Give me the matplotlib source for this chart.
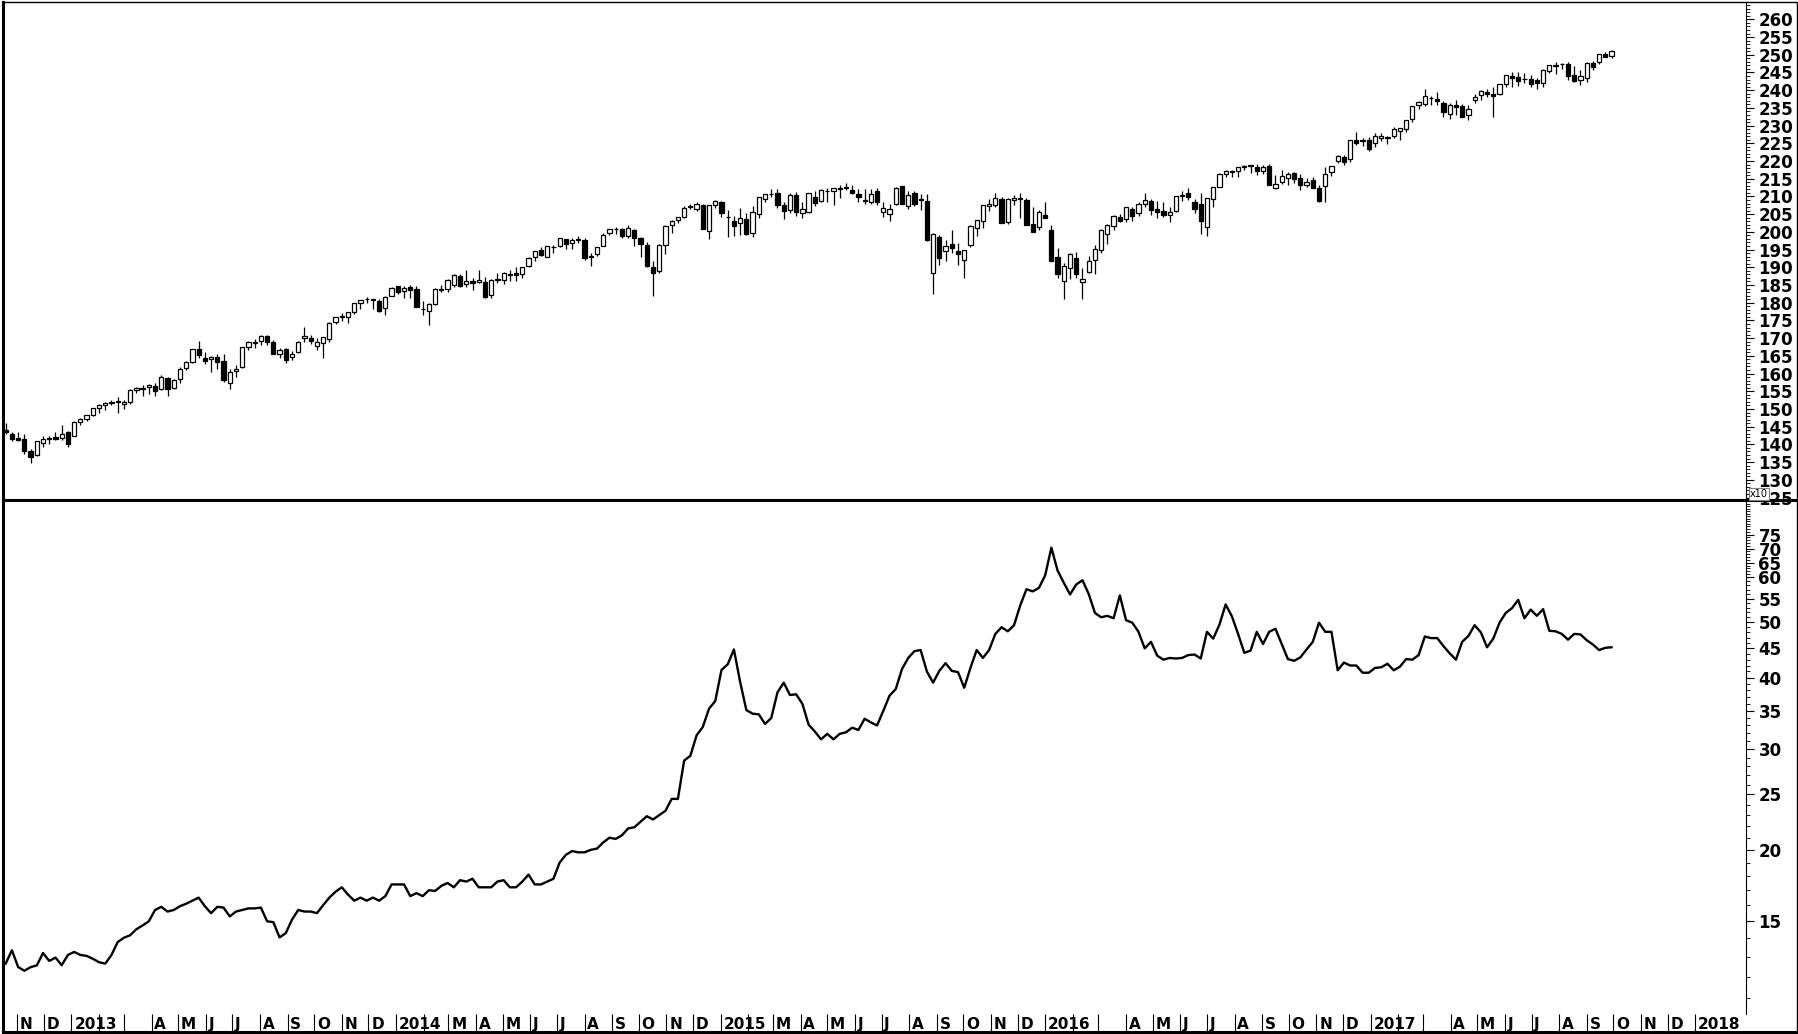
import numpy as np
import pandas as pd
import matplotlib
matplotlib.use("Agg")
import matplotlib.pyplot as plt
from matplotlib.lines import Line2D
from matplotlib.patches import Rectangle
from matplotlib.ticker import MultipleLocator, FixedLocator, NullFormatter

# weekly bars, first bar is the week ending 2012-10-19
first_week = "2012-10-19"

opens = [
    # 2012
    144.2, 142.8, 141.9, 141.5, 138.2, 137.0, 140.5, 141.6, 142.1, 141.7, 143.5,
    # 2013
    142.5, 146.4, 147.1, 148.4, 150.2, 151.0, 151.8, 152.2, 151.5, 151.9,
    155.4, 156.0, 156.1, 156.4, 155.6, 158.7, 156.0, 158.6, 161.6, 163.4,
    166.9, 164.4, 164.1, 164.6, 163.6, 157.4, 160.6, 161.8, 167.5, 168.6,
    169.2, 170.5, 168.8, 165.5, 166.9, 164.8, 166.0, 170.0, 170.0, 167.9,
    168.5, 169.7, 174.6, 176.0, 176.0, 177.3, 180.0, 181.0, 181.0, 180.6,
    178.4, 182.0,
    # 2014
    184.6, 183.3, 184.4, 184.0, 178.2, 177.7, 179.7, 183.7, 184.0, 185.0,
    187.5, 185.2, 186.0, 185.9, 185.9, 182.3, 186.6, 186.3, 188.0, 188.4,
    188.0, 190.4, 192.9, 194.8, 193.0, 195.7, 196.0, 198.0, 196.8, 197.8,
    197.8, 192.9, 193.8, 196.0, 199.6, 200.9, 200.7, 198.9, 200.4, 198.3,
    196.4, 190.2, 189.0, 196.2, 201.9, 203.3, 204.2, 207.0, 206.4, 207.5,
    200.3, 207.6,
    # 2015
    208.5, 204.2, 203.0, 202.4, 203.5, 199.6, 205.0, 209.4, 210.7, 210.9,
    207.7, 206.3, 210.3, 205.3, 205.6, 209.9, 208.6, 211.6, 211.5, 212.2,
    212.4, 211.9, 210.8, 208.6, 208.4, 211.6, 205.5, 205.1, 207.8, 212.9,
    207.2, 211.0, 208.9, 208.7, 188.3, 198.5, 194.6, 196.6, 194.7, 192.1,
    196.4, 201.1, 203.0, 207.3, 207.6, 209.3, 202.9, 208.9, 209.2, 208.9,
    202.1, 201.4, 204.7,
    # 2016
    200.5, 192.9, 186.2, 189.9, 192.5, 185.8, 188.8, 192.1, 195.0, 199.4,
    201.7, 204.1, 203.6, 206.5, 205.3, 207.8, 208.8, 206.5, 205.9, 204.9,
    205.9, 210.0, 211.0, 208.3, 207.8, 201.4, 209.2, 212.8, 216.2, 216.9,
    217.2, 218.3, 218.8, 218.3, 217.1, 218.5, 212.4, 214.0, 215.1, 216.5,
    215.2, 213.3, 214.6, 212.4, 212.9, 216.9, 219.9, 221.2, 220.6, 226.0,
    226.0, 226.0,
    # 2017
    225.0, 226.5, 226.5, 227.0, 228.5, 229.0, 231.9, 235.8, 236.0, 237.9,
    237.6, 236.4, 233.2, 235.8, 235.4, 233.1, 237.2, 238.7, 239.6, 239.0,
    239.0, 241.7, 244.0, 243.8, 243.3, 243.1, 242.9, 242.1, 245.5, 247.0,
    247.5, 247.5, 244.2, 243.0, 243.4, 247.6, 248.0, 250.1, 249.7,
]

highs = [
    146.1, 143.5, 143.4, 143.0, 138.7, 141.0, 142.5, 142.4, 143.6, 145.6, 143.8,
    146.6, 147.4, 148.4, 150.3, 151.3, 152.0, 152.6, 153.3, 152.5, 155.5,
    156.2, 156.9, 157.0, 157.4, 159.7, 159.0, 158.6, 161.9, 163.6, 166.9,
    169.1, 166.1, 165.0, 165.5, 165.4, 161.4, 162.5, 167.5, 169.3, 169.8,
    171.0, 170.9, 169.5, 167.3, 167.3, 166.4, 169.2, 173.1, 170.8, 170.1,
    170.4, 174.5, 176.0, 177.0, 177.3, 180.0, 180.9, 181.7, 181.1, 181.1,
    182.0, 184.3,
    184.7, 184.6, 185.0, 184.8, 180.5, 180.0, 184.1, 184.9, 186.6, 188.0,
    188.1, 189.2, 187.1, 189.2, 187.3, 186.6, 188.5, 188.8, 189.2, 190.2,
    190.0, 192.8, 194.6, 195.6, 195.9, 196.4, 198.3, 198.1, 198.3, 198.7,
    198.3, 194.1, 195.8, 199.8, 200.8, 201.4, 201.0, 201.9, 200.7, 198.5,
    197.0, 191.9, 196.7, 201.8, 203.3, 204.3, 207.3, 207.8, 208.5, 208.0,
    207.6, 209.0,
    208.7, 206.2, 204.5, 206.6, 205.4, 207.3, 209.8, 210.7, 212.0, 212.2,
    208.4, 211.0, 211.2, 208.3, 210.9, 211.4, 212.0, 212.3, 212.3, 213.2,
    213.8, 213.3, 212.2, 212.2, 212.1, 212.5, 208.3, 208.0, 212.6, 213.0,
    211.4, 211.5, 210.7, 210.6, 199.8, 199.1, 197.8, 200.6, 196.9, 195.0,
    201.9, 203.3, 207.6, 209.4, 211.1, 209.8, 209.7, 210.3, 211.0, 209.6,
    207.0, 206.3, 208.4,
    201.9, 195.4, 191.3, 194.0, 194.2, 189.8, 193.3, 196.2, 200.7, 202.2,
    204.9, 205.1, 207.0, 207.0, 208.5, 210.9, 209.4, 208.7, 208.5, 207.1,
    210.2, 211.6, 212.5, 209.2, 211.0, 209.6, 212.6, 216.6, 217.4, 217.6,
    218.2, 219.0, 219.0, 219.2, 218.9, 219.2, 216.1, 217.6, 217.0, 216.9,
    216.2, 215.1, 215.6, 213.1, 218.3, 218.6, 221.6, 221.8, 226.0, 228.3,
    226.6, 226.7,
    227.8, 228.0, 227.0, 229.7, 229.3, 231.5, 235.4, 236.9, 240.3, 238.5,
    239.4, 237.0, 236.5, 237.3, 236.0, 235.9, 239.0, 240.0, 240.2, 240.9,
    241.7, 244.4, 245.0, 245.0, 244.9, 244.4, 243.4, 245.9, 247.2, 247.9,
    247.6, 248.0, 246.7, 245.6, 247.9, 248.3, 250.2, 250.9, 251.3,
]

lows = [
    143.0, 140.9, 140.9, 137.4, 134.7, 136.7, 139.2, 140.2, 141.3, 141.1, 139.4,
    142.4, 145.6, 146.5, 148.1, 148.8, 149.8, 151.1, 148.9, 149.9, 151.4,
    154.6, 153.8, 154.2, 153.6, 155.3, 153.6, 155.6, 157.3, 160.9, 162.9,
    164.5, 162.6, 160.5, 161.3, 157.5, 155.7, 159.1, 161.7, 166.6, 167.2,
    168.1, 168.2, 165.4, 164.5, 163.1, 163.7, 165.9, 169.0, 168.4, 166.6,
    164.5, 169.0, 174.0, 174.9, 174.3, 176.9, 178.3, 180.0, 178.3, 177.3,
    176.5, 181.8,
    182.4, 181.3, 181.3, 178.8, 176.5, 173.7, 179.4, 182.9, 182.9, 184.4,
    184.4, 184.5, 183.7, 185.5, 181.3, 181.3, 185.6, 185.3, 186.2, 186.2,
    186.9, 190.2, 191.9, 193.2, 192.9, 194.0, 195.6, 195.2, 195.3, 196.9,
    192.1, 190.5, 193.3, 196.0, 199.1, 199.4, 198.4, 198.2, 195.9, 193.0,
    190.1, 181.9, 188.4, 193.7, 199.8, 202.6, 203.8, 206.5, 205.9, 200.8,
    197.9, 206.8,
    204.3, 198.6, 198.9, 199.2, 199.1, 198.6, 203.9, 208.5, 209.9, 206.8,
    203.5, 205.2, 204.6, 204.0, 205.2, 207.3, 208.3, 208.5, 207.7, 209.7,
    211.7, 210.6, 208.4, 207.9, 208.0, 207.6, 204.1, 203.2, 207.5, 207.9,
    206.5, 207.3, 206.3, 197.5, 182.4, 190.6, 191.9, 194.0, 190.7, 186.9,
    195.7, 198.9, 201.0, 206.0, 207.0, 202.4, 202.2, 207.6, 203.9, 201.9,
    199.9, 200.4, 203.9,
    191.9, 186.9, 181.0, 186.6, 187.1, 181.0, 188.4, 188.2, 193.9, 196.7,
    200.6, 202.7, 202.7, 203.1, 204.4, 207.0, 204.8, 203.9, 204.2, 202.8,
    205.5, 208.6, 209.1, 205.2, 199.4, 198.7, 207.0, 212.7, 215.5, 215.4,
    215.5, 217.5, 216.7, 216.0, 216.4, 213.3, 212.0, 213.4, 213.1, 213.9,
    211.8, 212.6, 212.4, 208.4, 208.4, 215.8, 219.5, 219.0, 219.7, 224.5,
    224.3, 222.7,
    223.9, 225.7, 224.9, 226.4, 226.0, 228.3, 231.1, 234.6, 235.4, 235.7,
    235.8, 232.5, 232.0, 233.1, 232.5, 231.6, 236.5, 237.2, 238.0, 232.5,
    238.6, 240.9, 241.0, 241.1, 242.0, 240.8, 240.2, 240.9, 244.9, 244.5,
    246.0, 243.0, 242.3, 241.5, 242.4, 245.6, 247.5, 249.4, 249.0,
]

closes = [
    143.4, 141.6, 141.3, 138.0, 136.4, 140.9, 141.5, 141.9, 141.6, 143.0, 140.0,
    146.4, 147.1, 148.3, 150.3, 151.2, 151.8, 152.1, 151.9, 152.1, 155.4,
    156.0, 155.6, 156.7, 155.2, 159.0, 155.5, 158.2, 161.4, 163.4, 166.9,
    165.3, 163.5, 164.8, 163.2, 158.2, 160.4, 161.2, 167.4, 168.8, 168.9,
    170.7, 168.8, 165.5, 166.6, 163.7, 165.5, 168.9, 170.7, 169.1, 168.9,
    170.3, 174.4, 175.9, 176.2, 177.3, 180.0, 180.8, 181.0, 180.9, 177.7,
    181.6, 184.2,
    183.0, 184.1, 183.6, 178.9, 178.2, 179.7, 184.0, 183.9, 186.3, 187.7,
    184.7, 186.2, 185.7, 186.4, 181.5, 186.4, 186.3, 188.3, 187.9, 187.8,
    190.0, 192.7, 194.5, 193.5, 195.9, 195.8, 198.2, 196.6, 197.7, 197.9,
    192.5, 193.2, 195.7, 199.2, 200.7, 200.9, 198.9, 201.0, 198.4, 196.5,
    190.5, 188.5, 196.4, 201.7, 203.2, 204.2, 206.7, 207.2, 208.0, 200.9,
    207.5, 208.7,
    205.4, 204.3, 201.6, 203.9, 199.5, 205.6, 209.8, 210.7, 210.7, 207.5,
    205.8, 210.4, 205.7, 206.4, 210.9, 208.2, 211.9, 211.6, 212.3, 212.4,
    212.6, 211.1, 209.8, 209.1, 210.8, 208.3, 206.7, 206.4, 212.5, 208.0,
    210.5, 207.9, 209.4, 197.6, 199.3, 192.6, 196.0, 195.5, 193.7, 195.0,
    201.7, 203.3, 207.5, 207.9, 209.6, 202.5, 209.3, 209.6, 209.6, 201.9,
    200.0, 205.7, 203.9,
    191.9, 188.1, 190.5, 193.7, 188.1, 186.6, 191.9, 195.1, 200.4, 202.0,
    204.4, 203.1, 206.9, 204.5, 207.8, 209.0, 206.3, 205.7, 204.8, 205.5,
    210.2, 210.3, 209.9, 206.5, 203.2, 209.5, 212.6, 216.4, 217.2, 217.1,
    218.2, 218.5, 218.5, 217.3, 218.4, 213.3, 213.4, 215.8, 216.3, 215.0,
    213.1, 214.0, 212.5, 208.6, 216.4, 218.5, 221.5, 219.7, 225.9, 225.0,
    225.7, 223.5,
    227.2, 227.0, 226.7, 229.0, 229.3, 231.5, 235.4, 236.7, 238.4, 237.7,
    237.0, 233.9, 235.7, 235.2, 232.5, 234.6, 238.1, 239.7, 239.0, 238.3,
    241.7, 244.2, 243.4, 242.6, 243.1, 241.8, 242.1, 245.6, 247.1, 246.9,
    247.4, 244.1, 242.7, 244.0, 247.8, 246.6, 250.1, 249.4, 251.2,
]

# lower panel series (same weekly dates)
lower = [
    12.65, 13.35, 12.48, 12.29, 12.47, 12.56, 13.2, 12.79, 12.96, 12.57,
    13.1, 13.26, 13.1, 13.05, 12.9, 12.72, 12.65, 13.1, 13.8, 14.04,
    14.18, 14.53, 14.75, 15.0, 15.7, 15.9, 15.6, 15.7, 15.94, 16.1,
    16.3, 16.5, 15.94, 15.5, 15.9, 15.85, 15.3, 15.6, 15.7, 15.8,
    15.8, 15.85, 15.0, 14.95, 14.06, 14.3, 15.1, 15.7, 15.6, 15.6,
    15.5, 16.0, 16.5, 16.9, 17.2, 16.7, 16.3, 16.5, 16.3, 16.5,
    16.3, 16.6, 17.4, 17.4, 17.4, 16.6, 16.8, 16.6, 17.0, 16.95,
    17.3, 17.5, 17.2, 17.7, 17.6, 17.8, 17.2, 17.2, 17.2, 17.6,
    17.7, 17.2, 17.2, 17.6, 18.1, 17.4, 17.4, 17.6, 17.8, 19.0,
    19.6, 19.9, 19.8, 19.8, 20.0, 20.1, 20.6, 21.0, 20.9, 21.2,
    21.8, 21.9, 22.4, 22.9, 22.6, 23.0,
    23.4, 24.55, 24.55, 28.65, 29.2, 31.7, 32.8, 35.3, 36.4, 41.25,
    42.2, 44.8, 39.3, 35.1, 34.6, 34.5, 33.2, 34.0, 37.7, 39.2,
    37.3, 37.4, 36.0, 33.1, 32.2, 31.2, 31.9, 31.2, 31.9, 32.1,
    32.7, 32.4, 33.9, 33.4, 33.0, 35.0, 37.2, 38.2, 41.4, 43.3,
    44.5, 44.7, 41.0, 39.2, 41.1, 42.4, 41.1, 40.9, 38.4, 41.6,
    44.7, 43.3, 44.7, 47.7, 49.0, 48.2, 49.4, 53.5, 57.1, 56.6,
    57.4, 60.5, 70.3, 62.2, 58.6, 55.9, 58.2, 59.2, 56.0, 51.9, 51.0,
    51.3, 50.8, 55.7, 50.4, 49.9, 48.1, 45.0, 46.2, 43.7, 43.0,
    43.3, 43.2, 43.3, 43.8, 43.9, 43.2, 48.1, 46.8, 49.5, 53.7,
    51.2, 47.7, 44.2, 44.6, 48.1, 45.8, 48.1, 48.7, 45.8, 43.1,
    42.8, 43.4, 44.8, 46.2, 49.9, 48.1, 48.1, 41.2, 42.5, 42.0,
    42.0, 40.8, 40.8, 41.6, 41.7, 42.3, 41.2, 41.8, 43.1, 43.0,
    43.8, 47.2, 46.9, 46.9, 45.4, 44.1, 43.0, 46.2, 47.3, 49.4,
    48.0, 45.2, 46.8, 49.9, 51.9, 52.9, 54.7, 50.8, 52.6, 51.3,
    52.7, 48.3, 48.2, 47.7, 46.6, 47.7, 47.6, 46.5, 45.7, 44.7, 45.1, 45.2,
]

month_labels = [
    "N", "D",
    "2013", "", "", "A", "M", "J", "J", "A", "S", "O", "N", "D",
    "2014", "", "M", "A", "M", "J", "J", "A", "S", "O", "N", "D",
    "2015", "", "M", "A", "M", "J", "J", "A", "S", "O", "N", "D",
    "2016", "", "", "A", "M", "J", "J", "A", "S", "O", "N", "D",
    "2017", "", "", "A", "M", "J", "J", "A", "S", "O", "N", "D",
    "2018",
]
price_ticks = list(range(125, 261, 5))
lower_ticks = [15, 20, 25, 30, 35, 40, 45, 50, 55, 60, 65, 70, 75]

W, H = 1799, 1034

# lower axis: log spacing up to 60, tighter spacing above (as on the original axis)
knot_v = np.log([8, 15, 60, 65, 70, 75, 100])
knot_h = -np.array([1077.4, 921.3, 576.9, 562.8, 548.5, 534.6, 474.9])


def fwd(v):
    v = np.asarray(v, dtype=float)
    return np.interp(np.log(np.clip(v, 1e-6, None)), knot_v, knot_h)


def inv(h):
    return np.exp(np.interp(h, knot_h, knot_v))


def box(x0, y0, x1, y1):
    return [x0 / W, 1 - y1 / H, (x1 - x0) / W, (y1 - y0) / H]


plt.rcParams['font.family'] = ['DejaVu Sans']
plt.rcParams['font.weight'] = 'bold'

fig = plt.figure(figsize=(W / 100, H / 100), dpi=100)
ax1 = fig.add_axes(box(3, 2, 1746, 500))
ax2 = fig.add_axes(box(3, 500, 1746, 1014), sharex=ax1)
axm = fig.add_axes(box(3, 1014, 1746, 1032), sharex=ax1)

x = np.arange(len(closes))
o = np.array(opens)
c = np.array(closes)
up = c >= o

# candles
ax1.vlines(x, lows, highs, color='black', lw=0.9, zorder=2)
ax1.bar(x, np.abs(c - o), bottom=np.minimum(o, c), width=0.68,
        color=np.where(up, 'white', 'black'), edgecolor='black', lw=0.9, zorder=3)
ax1.set_xlim(-0.43, 279.6)
ax1.set_ylim(124.3, 264.9)
ax1.set_yticks(price_ticks)
ax1.set_yticklabels([str(v) for v in price_ticks])
ax1.yaxis.set_minor_locator(MultipleLocator(1))

# lower line
ax2.plot(x, lower, color='black', lw=1.7)
ax2.set_yscale('function', functions=(fwd, inv))
ax2.set_ylim(inv(-1014.0), inv(-500.0))
ax2.yaxis.set_major_locator(FixedLocator(lower_ticks))
ax2.set_yticklabels([str(v) for v in lower_ticks])
ax2.yaxis.set_minor_locator(FixedLocator([v for v in range(11, 88) if v not in lower_ticks]))
ax2.yaxis.set_minor_formatter(NullFormatter())

for ax in (ax1, ax2):
    for s in ('left', 'top', 'bottom'):
        ax.spines[s].set_visible(False)
    ax.spines['right'].set_linewidth(0.8)
    ax.yaxis.tick_right()
    ax.tick_params(axis='x', which='both', bottom=False, labelbottom=False)
    ax.tick_params(axis='y', which='major', length=6, width=0.8, pad=3, labelsize=12)
    ax.tick_params(axis='y', which='minor', length=3, width=0.6)

# month strip
mpos = (pd.date_range("2012-11-01", "2018-01-01", freq="MS") - pd.Timestamp(first_week)).days / 7.0
axm.set_ylim(0, 1)
axm.axis('off')
axm.vlines(mpos, 0, 1, color='black', lw=0.8)
for p, lab in zip(mpos, month_labels):
    if lab:
        axm.text(p + 0.45, 0.42, lab, ha='left', va='center', fontsize=11, fontweight='bold')

# frame and separator
fig.add_artist(Rectangle((3 / W, 2 / H), 1794 / W, 1030 / H, transform=fig.transFigure,
                         fill=False, lw=1.0, ec='black'))
fig.add_artist(Line2D([3 / W, 3 / W], [2 / H, 1 - 2 / H], transform=fig.transFigure, lw=2.2, color='black'))
fig.add_artist(Line2D([3 / W, 1797 / W], [2 / H, 2 / H], transform=fig.transFigure, lw=2.2, color='black'))
fig.add_artist(Line2D([3 / W, 1797 / W], [1 - 500 / H, 1 - 500 / H], transform=fig.transFigure,
                      lw=2.2, color='black'))
fig.text(1750 / W, 1 - 494 / H, "x10", fontsize=7, fontweight='normal', va='center', ha='left',
         bbox=dict(boxstyle='square,pad=0.15', fc='white', ec='gray', lw=0.8))

fig.savefig("out.png", dpi=100)
